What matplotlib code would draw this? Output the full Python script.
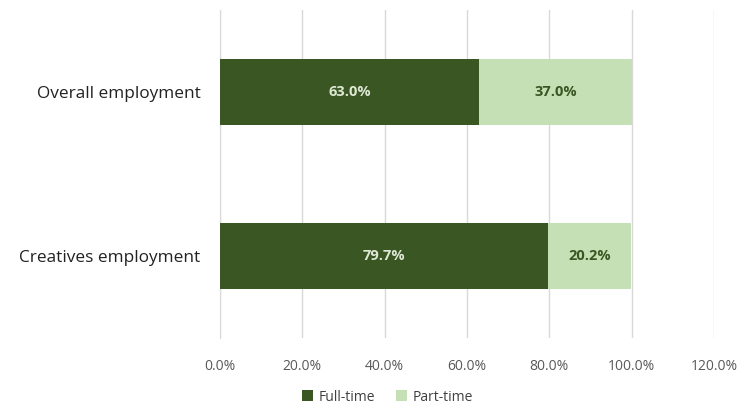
import matplotlib

matplotlib.use("Agg")
import matplotlib.pyplot as plt
from matplotlib.ticker import FuncFormatter

categories = ["Creatives employment", "Overall employment"]
full_time = [79.7, 63.0]
part_time = [20.2, 37.0]
series_names = ["Full-time", "Part-time"]
xticks = [0, 20, 40, 60, 80, 100, 120]

DARK = "#3A5623"
LIGHT = "#C5E0B4"

plt.rcParams["font.family"] = ["Open Sans", "DejaVu Sans"]

fig = plt.figure(figsize=(7.45, 4.13), dpi=100)
ax = fig.add_axes([0.2953, 0.1816, 0.6631, 0.7942])

y = range(len(categories))
b1 = ax.barh(y, full_time, height=0.4, color=DARK, label=series_names[0], zorder=3)
b2 = ax.barh(y, part_time, left=full_time, height=0.4, color=LIGHT,
             label=series_names[1], zorder=3)

for bar, v in zip(b1, full_time):
    ax.text(bar.get_x() + bar.get_width() / 2, bar.get_y() + bar.get_height() / 2,
            f"{v:.1f}%", ha="center", va="center", color="#DDE8D4",
            fontsize=10.5, fontweight="bold", zorder=4)
for bar, v in zip(b2, part_time):
    ax.text(bar.get_x() + bar.get_width() / 2, bar.get_y() + bar.get_height() / 2,
            f"{v:.1f}%", ha="center", va="center", color=DARK,
            fontsize=10.5, fontweight="bold", zorder=4)

ax.set_xlim(0, 120)
ax.set_ylim(-0.5, 1.5)
ax.set_xticks(xticks)
ax.xaxis.set_major_formatter(FuncFormatter(lambda v, _: f"{v:.1f}%"))
ax.set_yticks(list(y))
ax.set_yticklabels(categories, fontsize=12.4, color="#222222")
ax.tick_params(axis="x", labelsize=10, colors="#595959", length=0, pad=15)
ax.tick_params(axis="y", length=0, pad=14)
ax.grid(axis="x", color="#D9D9D9", lw=1, zorder=0)
for s in ["top", "right", "bottom"]:
    ax.spines[s].set_visible(False)
ax.spines["left"].set_color("#D9D9D9")
ax.spines["left"].set_zorder(0)

fig.legend(handles=[b1, b2], loc="lower center", bbox_to_anchor=(0.52, -0.01),
           ncol=2, frameon=False, fontsize=10, handlelength=0.8, handleheight=0.8,
           handletextpad=0.4, columnspacing=1.5, labelcolor="#404040")

fig.savefig("out.png", dpi=100)
